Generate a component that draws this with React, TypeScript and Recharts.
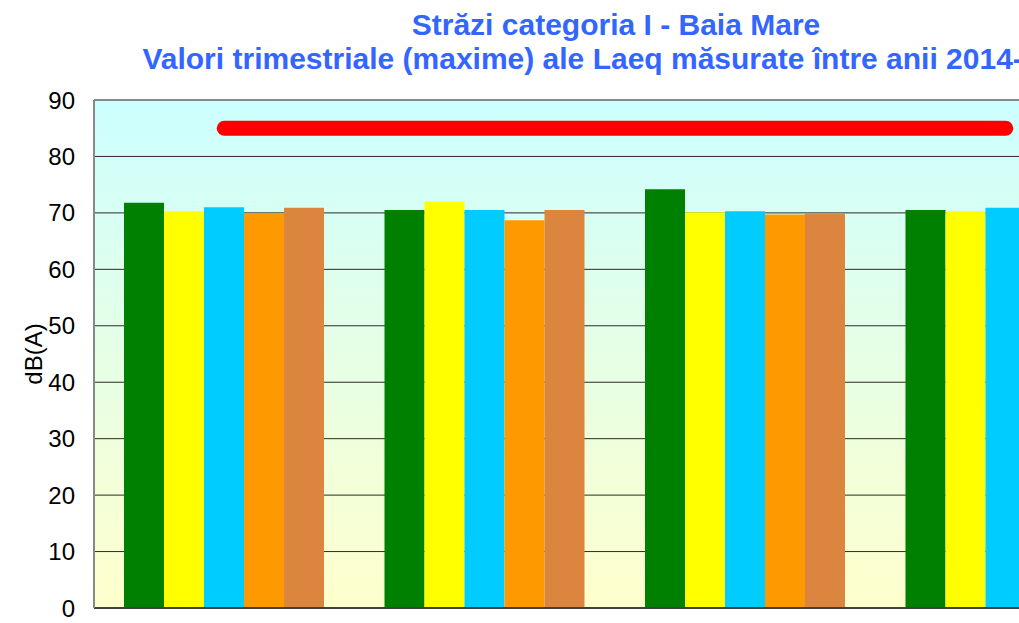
import React from 'react';
import {
  ComposedChart,
  Bar,
  Line,
  XAxis,
  YAxis,
  CartesianGrid,
  ReferenceLine,
} from 'recharts';

const categories = ['Trimestrul I', 'Trimestrul II', 'Trimestrul III', 'Trimestrul IV'];
const years = ['2014', '2015', '2016', '2017', '2018'];
const values2014 = [71.8, 70.5, 74.2, 70.5];
const values2015 = [70.3, 72.0, 70.1, 70.3];
const values2016 = [71.0, 70.5, 70.3, 70.9];
const values2017 = [69.9, 68.7, 69.7, 70.2];
const values2018 = [70.9, 70.5, 69.9, 70.6];
const limitValues = [85, 85, 85, 85];
const yTicks = [0, 10, 20, 30, 40, 50, 60, 70, 80, 90];

const seriesValues = [values2014, values2015, values2016, values2017, values2018];
const seriesColors = ['#008000', '#FFFF00', '#00CCFF', '#FF9900', '#DC853F'];

const data = categories.map((name, i) => {
  const row: Record<string, string | number> = { name, limit: limitValues[i] };
  years.forEach((y, k) => {
    row[y] = seriesValues[k][i];
  });
  return row;
});

const FONT = '"Liberation Sans", Arial, sans-serif';

const YLabel = () => (
  <text
    x={33}
    y={354}
    transform="rotate(-90 33 354)"
    textAnchor="middle"
    dominantBaseline="central"
    fontSize={24}
    fontFamily={FONT}
    fill="#000"
  >
    dB(A)
  </text>
);

const App = () => {
  return (
    <div
      style={{
        position: 'absolute',
        left: 0,
        top: 0,
        width: 1019,
        height: 623,
        overflow: 'hidden',
        background: '#fff',
      }}
    >
      <div
        style={{
          position: 'absolute',
          left: 0,
          top: 8,
          width: 1232,
          textAlign: 'center',
          fontFamily: FONT,
          fontWeight: 'bold',
          fontSize: 30,
          lineHeight: '34px',
          color: '#3366FF',
          whiteSpace: 'nowrap',
        }}
      >
        <div>Străzi categoria I - Baia Mare</div>
        <div>Valori trimestriale (maxime) ale Laeq măsurate între anii 2014-2018</div>
      </div>
      <div style={{ position: 'absolute', left: 0, top: 0 }}>
        <ComposedChart
          width={1162}
          height={640}
          data={data}
          margin={{ top: 100, right: 26, left: 0, bottom: 0 }}
          barGap={0}
          barCategoryGap={30}
        >
          <defs>
            <linearGradient id="plotBg" x1="0" y1="0" x2="0" y2="1">
              <stop offset="0%" stopColor="#CCFFFF" />
              <stop offset="100%" stopColor="#FFFFCC" />
            </linearGradient>
          </defs>
          <CartesianGrid
            vertical={false}
            stroke="#2a2a2a"
            strokeWidth={1}
            fill="url(#plotBg)"
            fillOpacity={1}
          />
          <XAxis
            dataKey="name"
            height={32}
            tick={false}
            tickLine={false}
            axisLine={{ stroke: '#404040', strokeWidth: 2 }}
          />
          <YAxis
            width={94}
            domain={[0, 90]}
            ticks={yTicks}
            interval={0}
            tickLine={false}
            tickMargin={13}
            axisLine={{ stroke: '#888', strokeWidth: 2 }}
            tick={{ fontSize: 24, fill: '#000', fontFamily: FONT }}
            label={<YLabel />}
          />
          <ReferenceLine y={90} stroke="#888" strokeWidth={2} />
          {years.map((y, k) => (
            <Bar
              key={y}
              dataKey={y}
              name={y}
              fill={seriesColors[k]}
              barSize={40}
              isAnimationActive={false}
            />
          ))}
          <Line
            type="linear"
            dataKey="limit"
            name="Limita"
            stroke="#FF0000"
            strokeWidth={15}
            strokeLinecap="round"
            dot={false}
            activeDot={false}
            isAnimationActive={false}
          />
        </ComposedChart>
      </div>
    </div>
  );
};

export default App;
